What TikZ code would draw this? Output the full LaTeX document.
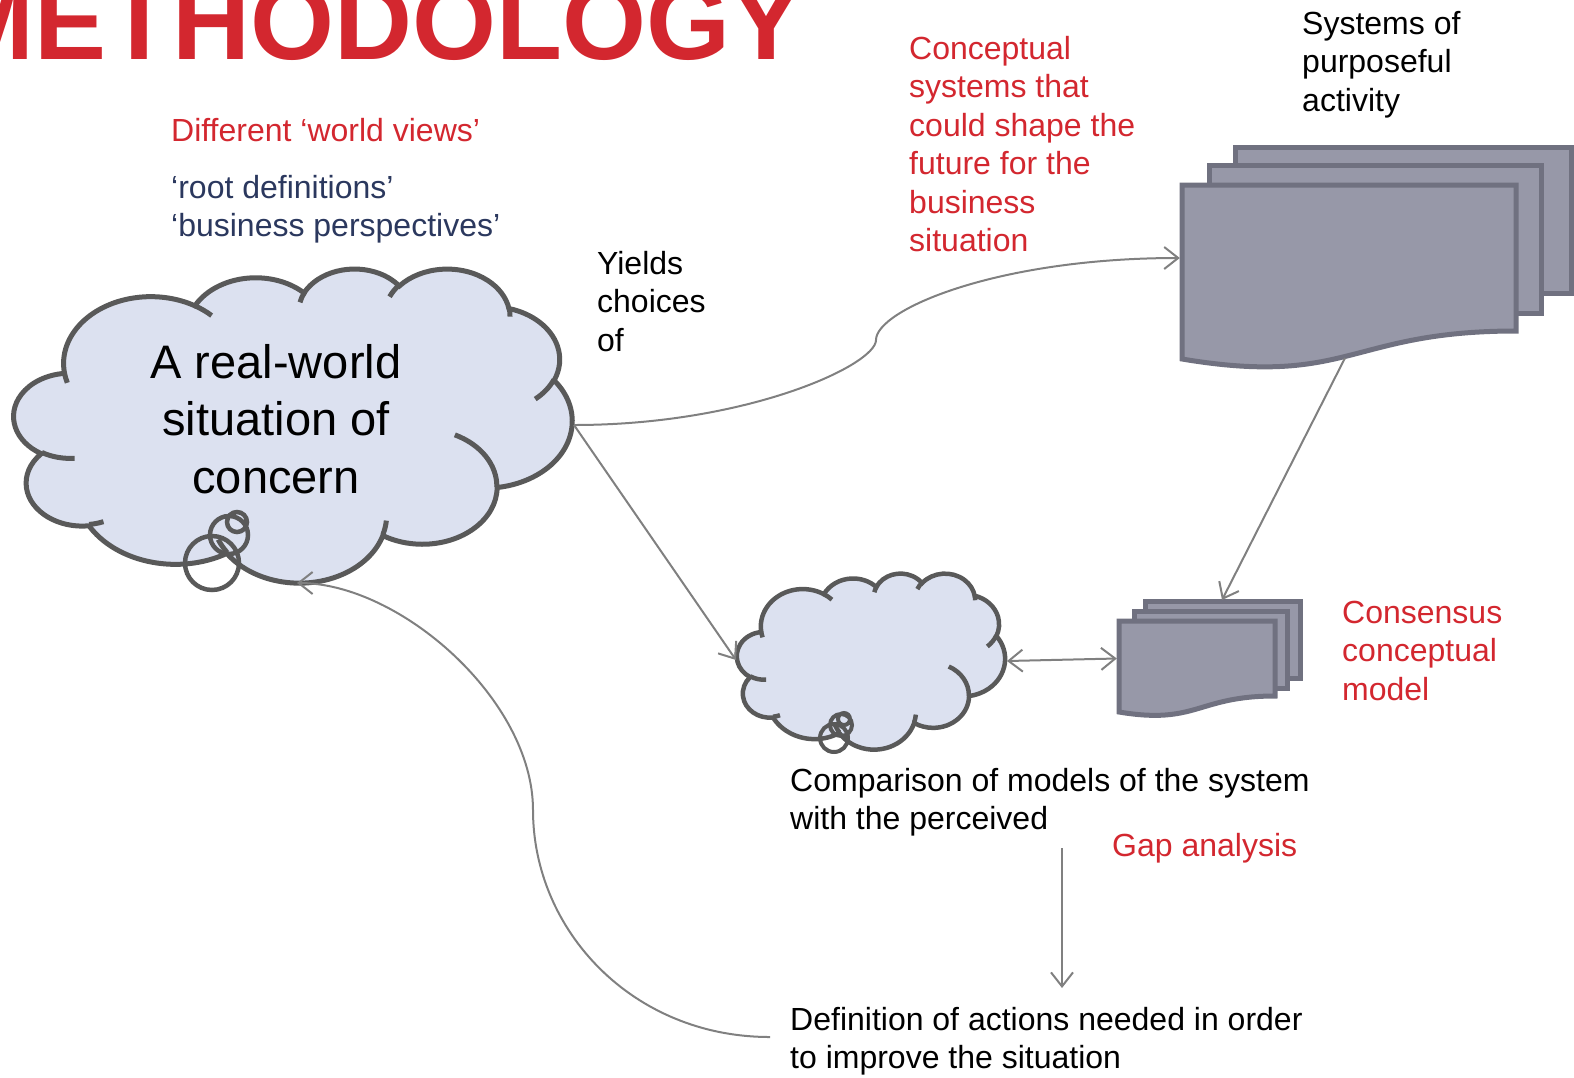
\documentclass[tikz,border=0pt]{standalone}
\usepackage{fontspec}
\setmainfont{Liberation Sans}
\usetikzlibrary{arrows.meta}
\definecolor{ssmred}{RGB}{211,39,47}
\definecolor{ssmnavy}{RGB}{43,56,94}
\definecolor{cloudfill}{RGB}{220,225,240}
\definecolor{cloudedge}{RGB}{89,89,89}
\definecolor{docfill}{RGB}{151,152,168}
\definecolor{docedge}{RGB}{112,113,128}
\definecolor{linkgrey}{RGB}{128,128,128}
\tikzset{>={Straight Barb[length=14pt,width=22pt]},line join=round}
\tikzset{
  declare function={vang(\ang,\rx,\ry)=\ang+atan((\rx-\ry)*sin(\ang)*cos(\ang)/(\ry*cos(\ang)*cos(\ang)+\rx*sin(\ang)*sin(\ang)));},
  puff/.style n args={4}{insert path={arc[x radius=#1,y radius=#2,start angle={vang(#3,#1,#2)},end angle={vang(#3+#4,#1,#2)}]}},
  cloudline/.style={draw=cloudedge,line width=5pt},
  bubble/.style={draw=cloudedge,line width=4.5pt},
  page/.style={draw=docedge,fill=docfill,line width=5pt},
  pagearea/.style={inner sep=0pt},
  link/.style={->,draw=linkgrey,line width=2pt},
  txt/.style={font=\fontsize{32}{38.4}\selectfont,align=left,inner sep=0pt,anchor=base west},
  redtxt/.style={txt,text=ssmred},
  navytxt/.style={txt,text=ssmnavy},
  title/.style={font=\fontsize{108}{120}\selectfont\bfseries,text=ssmred,inner sep=0pt,anchor=base west}
}
% cloud outline, 432 x 432 units
\newcommand{\ssmcloud}{%
  \draw[cloudline,fill=cloudfill] (39.00,143.70)
    [puff={67.53}{91.90}{-190.4875}{123.7805}]
    [puff={53.33}{72.67}{-144.1024}{89.9452}]
    [puff={43.65}{59.45}{-145.8079}{99.7230}]
    [puff={48.57}{65.95}{-130.9861}{117.2417}]
    [puff={53.33}{72.73}{-78.7089}{109.0269}]
    [puff={67.75}{92.20}{-46.2673}{130.2690}]
    [puff={57.85}{78.67}{0.6250}{114.0333}]
    [puff={67.52}{92.15}{22.4516}{115.1726}]
    [puff={77.20}{105.43}{66.2426}{75.7110}]
    [puff={43.60}{59.18}{-274.9421}{146.7356}]
    [puff={43.45}{59.45}{-246.8285}{152.5189}] -- cycle;
  \draw[cloudline]
    (46.93,261.77) [puff={43.45}{59.45}{86.7420}{26.4295}]
    (69.28,348.99) [puff={43.60}{59.18}{73.6105}{11.4475}]
    (164.78,390.90) [puff={67.52}{92.15}{137.6242}{14.0811}]
    (288.27,347.51) [puff={67.52}{92.15}{6.4533}{15.9984}]
    (341.29,229.54) [puff={57.85}{78.67}{-70.2924}{70.9174}]
    (417.98,153.54) [puff={53.33}{72.73}{30.3180}{27.7515}]
    (383.24,54.26) [puff={48.57}{65.95}{-13.7443}{14.8589}]
    (290.78,39.52) [puff={48.57}{65.95}{-149.1815}{18.1954}]
    (221.41,47.20) [puff={43.65}{59.45}{-163.4943}{17.6864}]
    (140.00,51.92) [puff={67.53}{91.90}{-66.7070}{12.3194}]
    (41.27,157.89) [puff={67.53}{91.90}{157.6544}{11.8582}];
}
\begin{document}
\begin{tikzpicture}[x=1pt,y=-1pt]
\useasboundingbox (0,0) rectangle (1574,1077);

\node[title] (mth) at (-56,59) {METHODOLOGY};

% real-world situation
\begin{scope}[shift={(14,268)},x=1.2917pt,y=-0.72685pt]
  \ssmcloud
\end{scope}
\draw[bubble] (212,563) circle[radius=27] (229,535) circle[radius=19] (237,522) circle[radius=10];
\node[font=\fontsize{47}{57.5}\selectfont,align=center] (rws) at (276,419) {A real-world\\situation of\\concern};
\coordinate (rws-e) at (574,425);
\coordinate (rws-s) at (297,583);

% comparison
\begin{scope}[shift={(737,573)},x=0.62037pt,y=-0.40741pt,cloudline/.append style={line width=4.5pt}]
  \ssmcloud
\end{scope}
\draw[bubble,line width=4pt] (834,738) circle[radius=14] (841,725) circle[radius=11] (844,719) circle[radius=6];
\coordinate (cmp-w) at (736,660);
\coordinate (cmp-e) at (1007,661);

% systems of purposeful activity
\draw[page] (1235,147) rectangle (1571,293);
\draw[page] (1209,165) rectangle (1541,313);
\draw[page] (1182,185) -- (1516,185) -- (1516,331) .. controls (1349,331) and (1349,387) .. (1182,359) -- cycle;
\node[pagearea,minimum width=334pt,minimum height=146pt] (spa) at (1349,258) {};
\coordinate (spa-b) at (1345,358);

% consensus model
\draw[page] (1145,601) rectangle (1300,678);
\draw[page] (1134,611) rectangle (1287,688);
\draw[page] (1119,621) -- (1275,621) -- (1275,696) .. controls (1197,696) and (1197,725) .. (1119,712) -- cycle;
\node[pagearea,minimum width=156pt,minimum height=75pt] (ccm) at (1197,658.5) {};
\coordinate (ccm-n) at (1222,600);

% labels (base = last line)
\node[redtxt] (wv) at (171,141) {Different ‘world views’};
\node[navytxt] (rd) at (171,236.4) {‘root definitions’\\‘business perspectives’};
\node[redtxt] (cs) at (909,251.5) {Conceptual\\systems that\\could shape the\\future for the\\business\\situation};
\node[txt] (spa-lbl) at (1302,111.3) {Systems of\\purposeful\\activity};
\node[txt] (yc) at (597,351.3) {Yields\\choices\\of};
\node[redtxt] (ccm-lbl) at (1342,700.3) {Consensus\\conceptual\\model};
\node[txt] (cmp-lbl) at (790,829.9) {Comparison of models of the system\\with the perceived};
\node[redtxt] (gap) at (1112,856.5) {Gap analysis};
\node[txt] (act) at (790,1068.9) {Definition of actions needed in order\\to improve the situation};
\coordinate (gap-a) at (1062,848);
\coordinate (gap-b) at (1062,988);
\coordinate (act-w) at (770,1037);

% connectors
\draw[link] (rws-e) .. controls (747,425) and (876,365) .. (876,340)
  .. controls (876,310) and (996,258) .. ([xshift=-2pt]spa.west);
\draw[link] (rws-e) -- (cmp-w);
\draw[link] (spa-b) -- (ccm-n);
\draw[link,<->] (cmp-e) -- ([xshift=-2pt]ccm.west);
\draw[link] (gap-a) -- (gap-b);
\draw[link] (act-w) .. controls (632,1037) and (533,930) .. (533,810)
  .. controls (533,700) and (400,583) .. (rws-s);
\end{tikzpicture}
\end{document}
